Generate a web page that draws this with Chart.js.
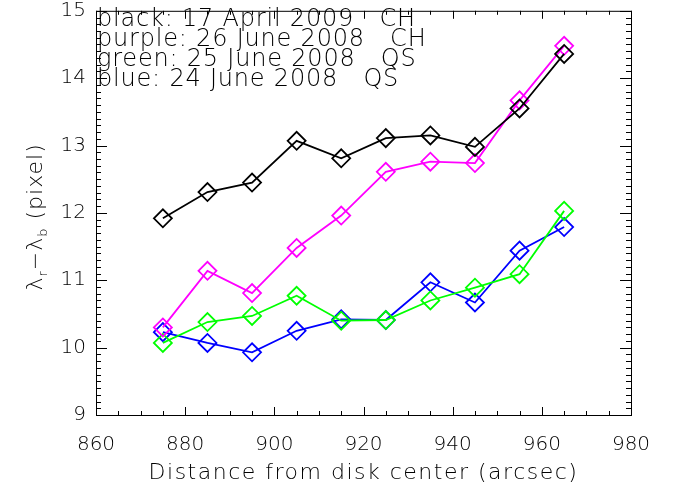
<!DOCTYPE html>
<html lang="en">
<head>
    <meta charset="UTF-8">
    <title>Line width vs distance from disk center</title>
    <script src="https://cdn.jsdelivr.net/npm/chart.js"></script>
    <style>
        html, body { margin: 0; padding: 0; background: #fff; }
        .chart-container { width: 677px; height: 488px; }
    </style>
</head>
<body>
    <div class="chart-container">
        <canvas id="widthChart"></canvas>
    </div>

    <script>
        const distances = [875, 885, 895, 905, 915, 925, 935, 945, 955, 965];
        const black17Apr2009 = [11.92, 12.31, 12.45, 13.07, 12.81, 13.11, 13.15, 12.98, 13.55, 14.36];
        const purple26Jun2008 = [10.30, 11.14, 10.81, 11.48, 11.96, 12.61, 12.76, 12.74, 13.67, 14.48];
        const green25Jun2008 = [10.07, 10.38, 10.47, 10.77, 10.40, 10.41, 10.70, 10.89, 11.09, 12.03];
        const blue24Jun2008 = [10.23, 10.07, 9.93, 10.25, 10.42, 10.41, 10.97, 10.67, 11.44, 11.79];
        const legendLines = [
            'black: 17 April 2009   CH',
            'purple: 26 June 2008   CH',
            'green: 25 June 2008   QS',
            'blue: 24 June 2008   QS'
        ];

        const FONT = "'DejaVu Sans'";
        const LIGHT = '200 ';

        function series(values, color) {
            return {
                data: values.map((v, i) => ({ x: distances[i], y: v })),
                borderColor: color,
                borderWidth: 1.8,
                pointStyle: 'rectRot',
                pointRadius: 9,
                pointHoverRadius: 9,
                pointBorderColor: color,
                pointBackgroundColor: 'rgba(0,0,0,0)',
                pointBorderWidth: 1.8,
                tension: 0
            };
        }

        // IDL style frame: box with inward ticks on all four sides, plus texts
        const framePlugin = {
            id: 'frame',
            afterDraw(chart) {
                const ctx = chart.ctx;
                const a = chart.chartArea;
                const xs = chart.scales.x, ys = chart.scales.y;
                ctx.save();
                ctx.strokeStyle = '#000';
                ctx.lineWidth = 1;
                ctx.strokeRect(a.left + 0.5, a.top + 0.5, a.right - a.left, a.bottom - a.top);
                ctx.beginPath();
                for (let v = 860; v <= 980; v += 5) {
                    const px = Math.round(xs.getPixelForValue(v)) + 0.5;
                    const len = v % 20 === 0 ? 8 : 4;
                    ctx.moveTo(px, a.bottom); ctx.lineTo(px, a.bottom - len);
                    ctx.moveTo(px, a.top); ctx.lineTo(px, a.top + len);
                }
                for (let k = 90; k <= 150; k++) {
                    const py = Math.round(ys.getPixelForValue(k / 10)) + 0.5;
                    const len = k % 10 === 0 ? 11 : 5;
                    ctx.moveTo(a.left, py); ctx.lineTo(a.left + len, py);
                    ctx.moveTo(a.right, py); ctx.lineTo(a.right - len, py);
                }
                ctx.stroke();

                ctx.fillStyle = '#000';
                ctx.font = LIGHT + '24px ' + FONT;
                ctx.letterSpacing = '0.8px';
                ctx.textAlign = 'left';
                ctx.textBaseline = 'alphabetic';
                legendLines.forEach((t, i) => ctx.fillText(t, a.left + 1, 26 + i * 20));

                ctx.font = LIGHT + '22px ' + FONT;
                ctx.letterSpacing = '1.5px';
                ctx.textAlign = 'center';
                ctx.fillText('Distance from disk center (arcsec)', (a.left + a.right) / 2, 479);

                // y title with subscripts
                ctx.letterSpacing = '1px';
                ctx.translate(42, (a.top + a.bottom) / 2 + 4);
                ctx.rotate(-Math.PI / 2);
                const parts = [
                    ['\u03bb', 22, 0], ['r', 13, 5], ['\u2212\u03bb', 22, 0], ['b', 13, 5], [' (pixel)', 22, 0]
                ];
                let total = 0;
                parts.forEach(p => { ctx.font = LIGHT + p[1] + 'px ' + FONT; total += ctx.measureText(p[0]).width; });
                let cx = -total / 2;
                ctx.textAlign = 'left';
                parts.forEach(p => {
                    ctx.font = LIGHT + p[1] + 'px ' + FONT;
                    ctx.fillText(p[0], cx, p[2]);
                    cx += ctx.measureText(p[0]).width;
                });
                ctx.restore();
            }
        };

        const ctx = document.getElementById('widthChart').getContext('2d');
        new Chart(ctx, {
            type: 'line',
            data: {
                datasets: [
                    series(black17Apr2009, '#000000'),
                    series(purple26Jun2008, '#ff00ff'),
                    series(green25Jun2008, '#00ff00'),
                    series(blue24Jun2008, '#0000ff')
                ]
            },
            options: {
                responsive: true,
                maintainAspectRatio: false,
                animation: false,
                layout: { padding: { left: 0, top: 8, right: 46, bottom: 0 } },
                plugins: { legend: { display: false }, tooltip: { enabled: false } },
                scales: {
                    x: {
                        type: 'linear',
                        min: 860,
                        max: 980,
                        border: { display: false },
                        grid: { display: false, drawTicks: false },
                        ticks: {
                            stepSize: 20,
                            padding: 18,
                            color: '#000',
                            maxRotation: 0,
                            font: { family: FONT, size: 20, weight: '200' }
                        },
                        afterFit(scale) {
                            scale.height = 73;
                            scale.paddingLeft = 0;
                            scale.paddingRight = 0;
                        }
                    },
                    y: {
                        min: 9,
                        max: 15,
                        border: { display: false },
                        grid: { display: false, drawTicks: false },
                        ticks: {
                            stepSize: 1,
                            padding: 10,
                            color: '#000',
                            font: { family: FONT, size: 20, weight: '200' }
                        },
                        afterFit(scale) {
                            scale.width = 96;
                            scale.paddingTop = 0;
                            scale.paddingBottom = 0;
                        }
                    }
                }
            },
            plugins: [framePlugin]
        });
    </script>
</body>
</html>
